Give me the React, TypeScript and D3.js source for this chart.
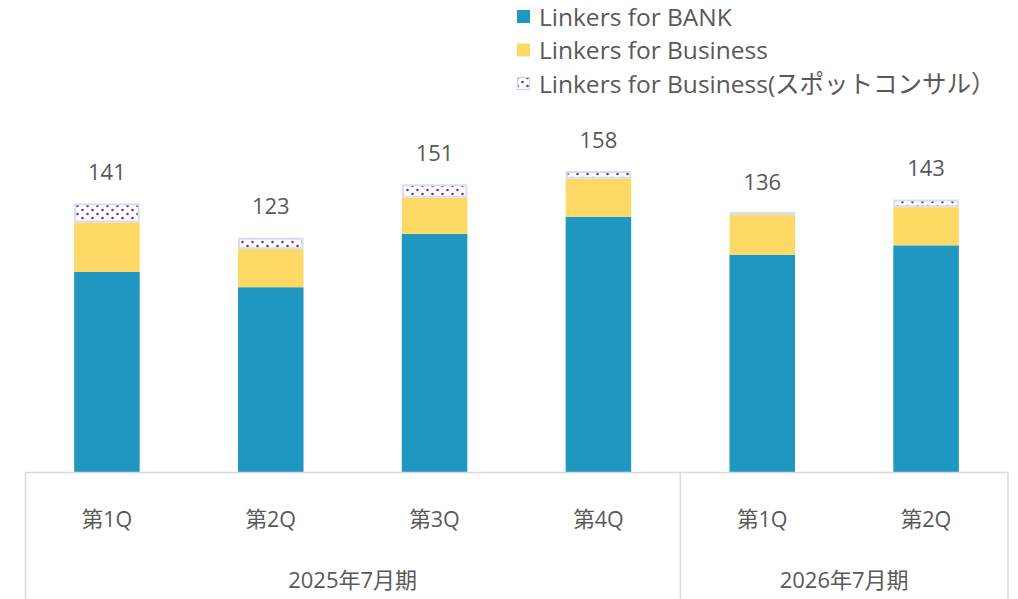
import React from "react";
import * as d3 from "d3";

const quarters = ["第1Q", "第2Q", "第3Q", "第4Q", "第1Q", "第2Q"];
const periods = ["2025年7月期", "2025年7月期", "2025年7月期", "2025年7月期", "2026年7月期", "2026年7月期"];
const bankValues = [105, 97, 125, 134, 114, 119];
const businessValues = [26, 20, 19, 20, 21, 20];
const spotValues = [10, 6, 7, 4, 1.5, 4];
const totals = [141, 123, 151, 158, 136, 143];
const seriesNames = ["Linkers for BANK", "Linkers for Business", "Linkers for Business(スポットコンサル）"];

const W = 1018;
const H = 599;
const BLUE = "#1F97C1";
const YELLOW = "#FFD966";
const TEXT = "#595959";
const GRID = "#D9D9D9";
const FONT = "'Open Sans', 'Noto Sans CJK JP', sans-serif";

export default function App() {
  const x = d3.scaleBand<number>().domain(d3.range(quarters.length)).range([25, 1008]).paddingInner(0.6).paddingOuter(0.3);
  const y = d3.scaleLinear().domain([0, 160]).range([472, 167.2]);
  const bw = x.bandwidth();
  const step = x.step();

  const stack = quarters.map((_, i) => {
    const b0 = 0, b1 = bankValues[i];
    const u1 = b1 + businessValues[i];
    const s1 = u1 + spotValues[i];
    return { b0, b1, u1, s1 };
  });

  const groups: { label: string; start: number; end: number }[] = [];
  periods.forEach((p, i) => {
    const last = groups[groups.length - 1];
    if (last && last.label === p) last.end = i;
    else groups.push({ label: p, start: i, end: i });
  });
  const bandLeft = (i: number) => (x(i) as number) + bw / 2 - step / 2;
  const bandRight = (i: number) => (x(i) as number) + bw / 2 + step / 2;

  return (
    <svg width={W} height={H} style={{ position: "absolute", left: 0, top: 0, background: "#fff" }} fontFamily={FONT}>
      <defs>
        <pattern id="dots" width="10" height="8" patternUnits="userSpaceOnUse">
          <rect width="10" height="8" fill="#fff" />
          <circle cx="2.5" cy="2" r="1.3" fill="#7030A0" />
          <circle cx="7.5" cy="6" r="1.3" fill="#7030A0" />
        </pattern>
      </defs>

      {/* legend */}
      {seriesNames.map((n, i) => {
        const ly = 17 + i * 33.5;
        return (
          <g key={n}>
            {i === 0 && <rect x={517} y={ly - 7} width={13} height={13} fill={BLUE} />}
            {i === 1 && <rect x={517} y={ly - 7} width={13} height={13} fill={YELLOW} />}
            {i === 2 && <rect x={517.5} y={ly - 6.5} width={12} height={12} fill="url(#dots)" stroke="#C9D3EA" strokeWidth={1} />}
            <text x={539} y={ly} dy="0.35em" fontSize={24.5} fill={TEXT}>{n}</text>
          </g>
        );
      })}

      {/* bars */}
      {stack.map((s, i) => {
        const bx = x(i) as number;
        const sh = y(s.u1) - y(s.s1);
        return (
          <g key={i}>
            <rect x={bx} y={y(s.b1)} width={bw} height={y(s.b0) - y(s.b1)} fill={BLUE} />
            <rect x={bx} y={y(s.u1)} width={bw} height={y(s.b1) - y(s.u1)} fill={YELLOW} />
            {sh > 4 ? (
              <rect x={bx + 1} y={y(s.s1) + 1} width={bw - 2} height={sh - 2} fill="url(#dots)" stroke="#D6DEF0" strokeWidth={2} />
            ) : (
              <rect x={bx} y={y(s.s1)} width={bw} height={sh} fill="#D6DEF0" />
            )}
            <text x={bx + bw / 2} y={y(totals[i]) - 31} dy="0.35em" textAnchor="middle" fontSize={22} fill={TEXT}>{totals[i]}</text>
          </g>
        );
      })}

      {/* axis */}
      <line x1={25} x2={1008} y1={472.5} y2={472.5} stroke={GRID} strokeWidth={1.5} />
      <line x1={25.5} x2={25.5} y1={472} y2={H} stroke={GRID} strokeWidth={1.5} />
      {groups.map((g) => (
        <line key={g.label + "r"} x1={bandRight(g.end)} x2={bandRight(g.end)} y1={472} y2={H} stroke={GRID} strokeWidth={1.5} />
      ))}
      {quarters.map((q, i) => (
        <text key={i} x={(x(i) as number) + bw / 2} y={519} dy="0.35em" textAnchor="middle" fontSize={21.5} fill={TEXT}>{q}</text>
      ))}
      {groups.map((g) => (
        <text key={g.label} x={(bandLeft(g.start) + bandRight(g.end)) / 2} y={580} dy="0.35em" textAnchor="middle" fontSize={22} fill={TEXT}>{g.label}</text>
      ))}
    </svg>
  );
}
